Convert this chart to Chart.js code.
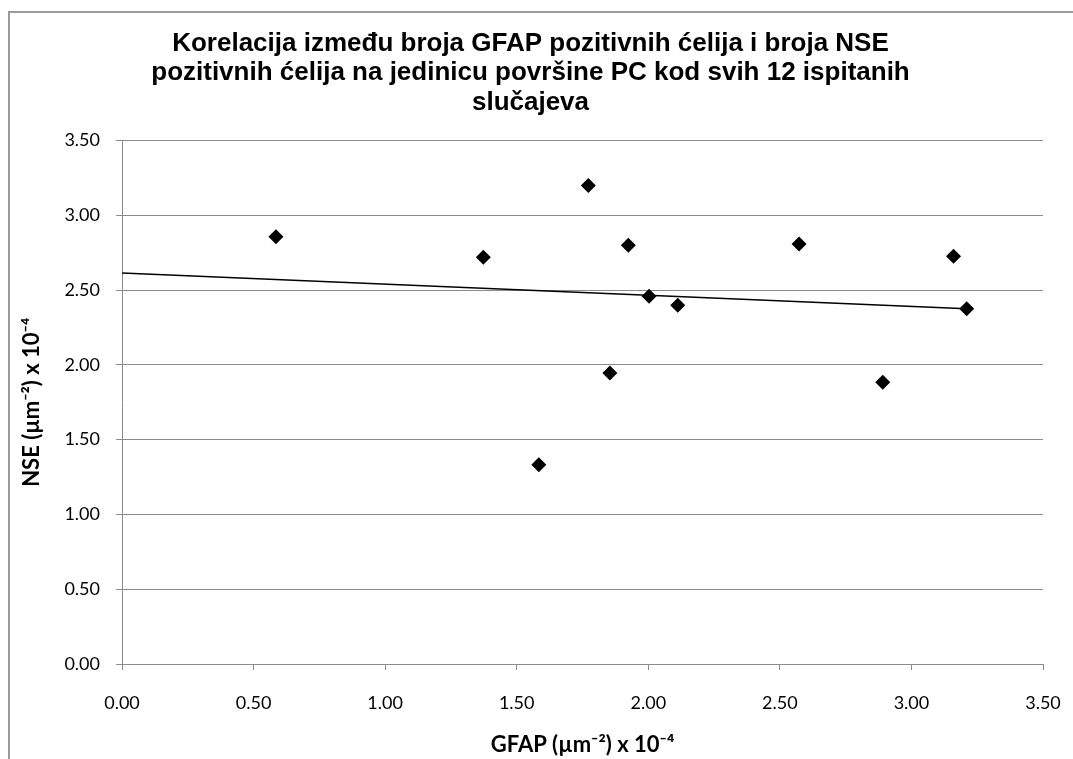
<!DOCTYPE html>
<html>
<head>
<meta charset="utf-8">
<script src="https://cdn.jsdelivr.net/npm/chart.js@4.4.1/dist/chart.umd.min.js"></script>
<style>
    body { margin: 0; background: #fff; }
    #wrap { position: relative; width: 1073px; height: 759px; overflow: hidden; }
    #frame {
        position: absolute;
        left: 8px;
        top: 11px;
        width: 1200px;
        height: 900px;
        border-left: 2px solid #9a9a9a;
        border-top: 2px solid #9a9a9a;
    }
    canvas { position: absolute; left: 0; top: 0; }
</style>
</head>
<body>
<div id="wrap">
    <div id="frame"></div>
    <canvas id="chart" width="1073" height="759"></canvas>
</div>
<script>
// GFAP vs NSE, 12 cases
const gfap = [0.585, 1.373, 1.584, 1.772, 1.854, 1.924, 2.003, 2.112, 2.573, 2.891, 3.160, 3.210];
const nse = [2.856, 2.720, 1.332, 3.200, 1.946, 2.800, 2.459, 2.398, 2.809, 1.883, 2.726, 2.376];

const titleLines = [
    "Korelacija između broja GFAP pozitivnih ćelija i broja NSE",
    "pozitivnih ćelija na jedinicu površine PC kod svih 12 ispitanih",
    "slučajeva",
];
const xTitle = "GFAP (µm⁻²) x 10⁻⁴";
const yTitle = "NSE (µm⁻²) x 10⁻⁴";

// linear trend line (least squares)
function linearFit(xs, ys) {
    const n = xs.length;
    const mx = xs.reduce((a, b) => a + b, 0) / n;
    const my = ys.reduce((a, b) => a + b, 0) / n;
    let sxy = 0;
    let sxx = 0;
    for (let i = 0; i < n; i++) {
        sxy += (xs[i] - mx) * (ys[i] - my);
        sxx += (xs[i] - mx) * (xs[i] - mx);
    }
    const slope = sxy / sxx;
    return { slope: slope, intercept: my - slope * mx };
}

const fit = linearFit(gfap, nse);
const xEnd = Math.max(...gfap);
const trend = [
    { x: 0, y: fit.intercept },
    { x: xEnd, y: fit.intercept + fit.slope * xEnd },
];

const points = gfap.map((x, i) => ({ x: x, y: nse[i] }));

const tickFont = { family: "Lato", size: 18 };
const axisTitleFont = { family: "Lato", size: 22, weight: "bold" };

new Chart(document.getElementById("chart"), {
    type: "scatter",
    data: {
        datasets: [
            {
                label: "NSE",
                data: points,
                pointStyle: "rectRot",
                pointRadius: 7.5,
                pointHoverRadius: 7.5,
                backgroundColor: "#000",
                borderColor: "#000",
                borderWidth: 0,
            },
            {
                type: "line",
                label: "Trend",
                data: trend,
                borderColor: "#000",
                borderWidth: 1.5,
                pointRadius: 0,
                fill: false,
            },
        ],
    },
    options: {
        responsive: false,
        animation: false,
        layout: {
            padding: { left: 18, right: 30, top: 0, bottom: 1 },
        },
        plugins: {
            legend: { display: false },
            tooltip: { enabled: false },
            title: {
                display: true,
                text: titleLines,
                color: "#000",
                font: { family: "Liberation Sans", size: 26, weight: "bold", lineHeight: 1.135 },
                padding: { top: 29, bottom: 23 },
            },
        },
        scales: {
            x: {
                type: "linear",
                min: 0,
                max: 3.5,
                afterFit: (s) => {
                    s.height = 759 - 1 - 664;
                    s.paddingLeft = 0;
                    s.paddingRight = 0;
                },
                ticks: {
                    stepSize: 0.5,
                    color: "#000",
                    font: tickFont,
                    padding: 22,
                    callback: (v) => v.toFixed(2),
                },
                grid: {
                    drawOnChartArea: false,
                    color: "#8c8c8c",
                    tickLength: 6,
                },
                border: { color: "#8c8c8c", width: 1 },
                title: {
                    display: true,
                    text: xTitle,
                    color: "#000",
                    font: axisTitleFont,
                    padding: { top: 0, bottom: 0 },
                },
            },
            y: {
                type: "linear",
                min: 0,
                max: 3.5,
                afterFit: (s) => { s.width = 122 - 18; },
                ticks: {
                    stepSize: 0.5,
                    color: "#000",
                    font: tickFont,
                    padding: 16,
                    callback: (v) => v.toFixed(2),
                },
                grid: {
                    color: "#8c8c8c",
                    tickLength: 6,
                },
                border: { color: "#8c8c8c", width: 1 },
                title: {
                    display: true,
                    text: yTitle,
                    color: "#000",
                    font: axisTitleFont,
                    padding: { top: 1, bottom: 0 },
                },
            },
        },
    },
});
</script>
</body>
</html>
